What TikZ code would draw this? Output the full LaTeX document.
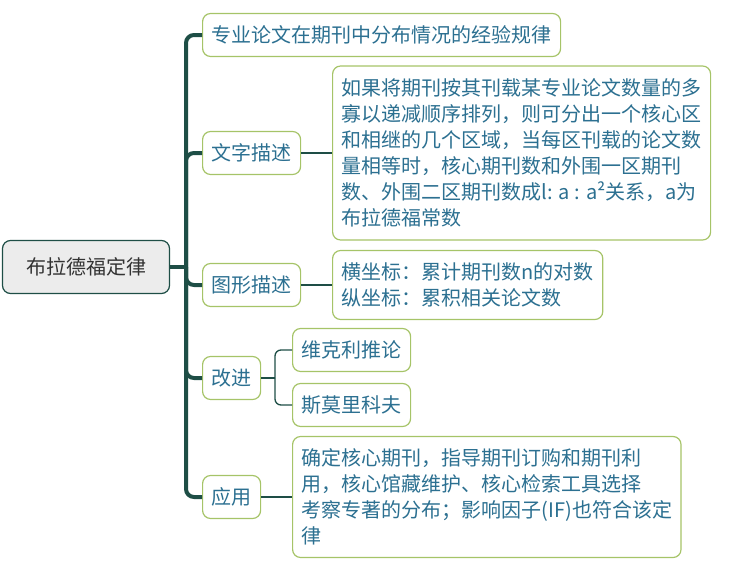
\documentclass[tikz,border=0pt]{standalone}
\usepackage{fontspec}
\setmainfont{Noto Sans CJK SC}
\usetikzlibrary{positioning}
\definecolor{trunkgreen}{RGB}{30,78,70}
\definecolor{leafolive}{RGB}{166,196,104}
\definecolor{labelblue}{RGB}{44,112,145}
\definecolor{rootgrey}{RGB}{236,236,236}
\tikzset{
  topic/.style={draw=trunkgreen,fill=rootgrey,line width=1.2pt,rounded corners=8pt,
    minimum width=167pt,minimum height=53pt,font=\fontsize{20}{26}\selectfont,text=black!80},
  leaf/.style={draw=leafolive,fill=white,line width=1.2pt,rounded corners=8pt,
    inner xsep=9pt,inner ysep=0pt,minimum height=43pt,anchor=west,align=left,
    font=\fontsize{20}{26}\selectfont,text=labelblue},
  trunk/.style={draw=trunkgreen,line width=4pt,rounded corners=8pt},
  twig/.style={draw=trunkgreen,line width=1.3pt,rounded corners=6pt},
}
\begin{document}
\begin{tikzpicture}[x=1pt,y=-1pt]
    \useasboundingbox (0,0) rectangle (731,568);
    \node[topic] (law) at (86,267) {布拉德福定律};
    \coordinate (fork) at (186,267);
    \node[leaf] (rule) at (202,35) {专业论文在期刊中分布情况的经验规律};
    \node[leaf] (words) at (202,153) {文字描述};
    \node[leaf] (graph) at (202,285) {图形描述};
    \node[leaf] (improve) at (202,378) {改进};
    \node[leaf] (use) at (202,497) {应用};
    \node[leaf,minimum height=174pt] (wordsdesc) at (332,153)
        {如果将期刊按其刊载某专业论文数量的多\\寡以递减顺序排列，则可分出一个核心区\\和相继的几个区域，当每区刊载的论文数\\量相等时，核心期刊数和外围一区期刊\\数、外围二区期刊数成l: a : a²关系，a为\\布拉德福常数};
    \node[leaf,minimum height=69pt] (graphdesc) at (332,285)
        {横坐标：累计期刊数n的对数\\纵坐标：累积相关论文数};
    \coordinate (fork2) at (275,378);
    \node[leaf] (vickery) at (292,350) {维克利推论};
    \node[leaf] (smolkov) at (292,405) {斯莫里科夫};
    \node[leaf,minimum height=121pt] (usedesc) at (292,497)
        {确定核心期刊，指导期刊订购和期刊利\\用，核心馆藏维护、核心检索工具选择\\考察专著的分布；影响因子(IF)也符合该定\\律};
    % trunk
    \draw[trunk] (law.east) -- (fork);
    \draw[trunk] (fork) |- (rule.west);
    \draw[trunk] (fork) |- (words.west);
    \draw[trunk] (fork) |- (graph.west);
    \draw[trunk] (fork) |- (improve.west);
    \draw[trunk] (fork) |- (use.west);
    % twigs
    \draw[twig] (words.east) -- (wordsdesc.west);
    \draw[twig] (graph.east) -- (graphdesc.west);
    \draw[twig] (improve.east) -- (fork2);
    \draw[twig] (fork2) |- (vickery.west);
    \draw[twig] (fork2) |- (smolkov.west);
    \draw[twig] (use.east) -- (usedesc.west);
\end{tikzpicture}
\end{document}
